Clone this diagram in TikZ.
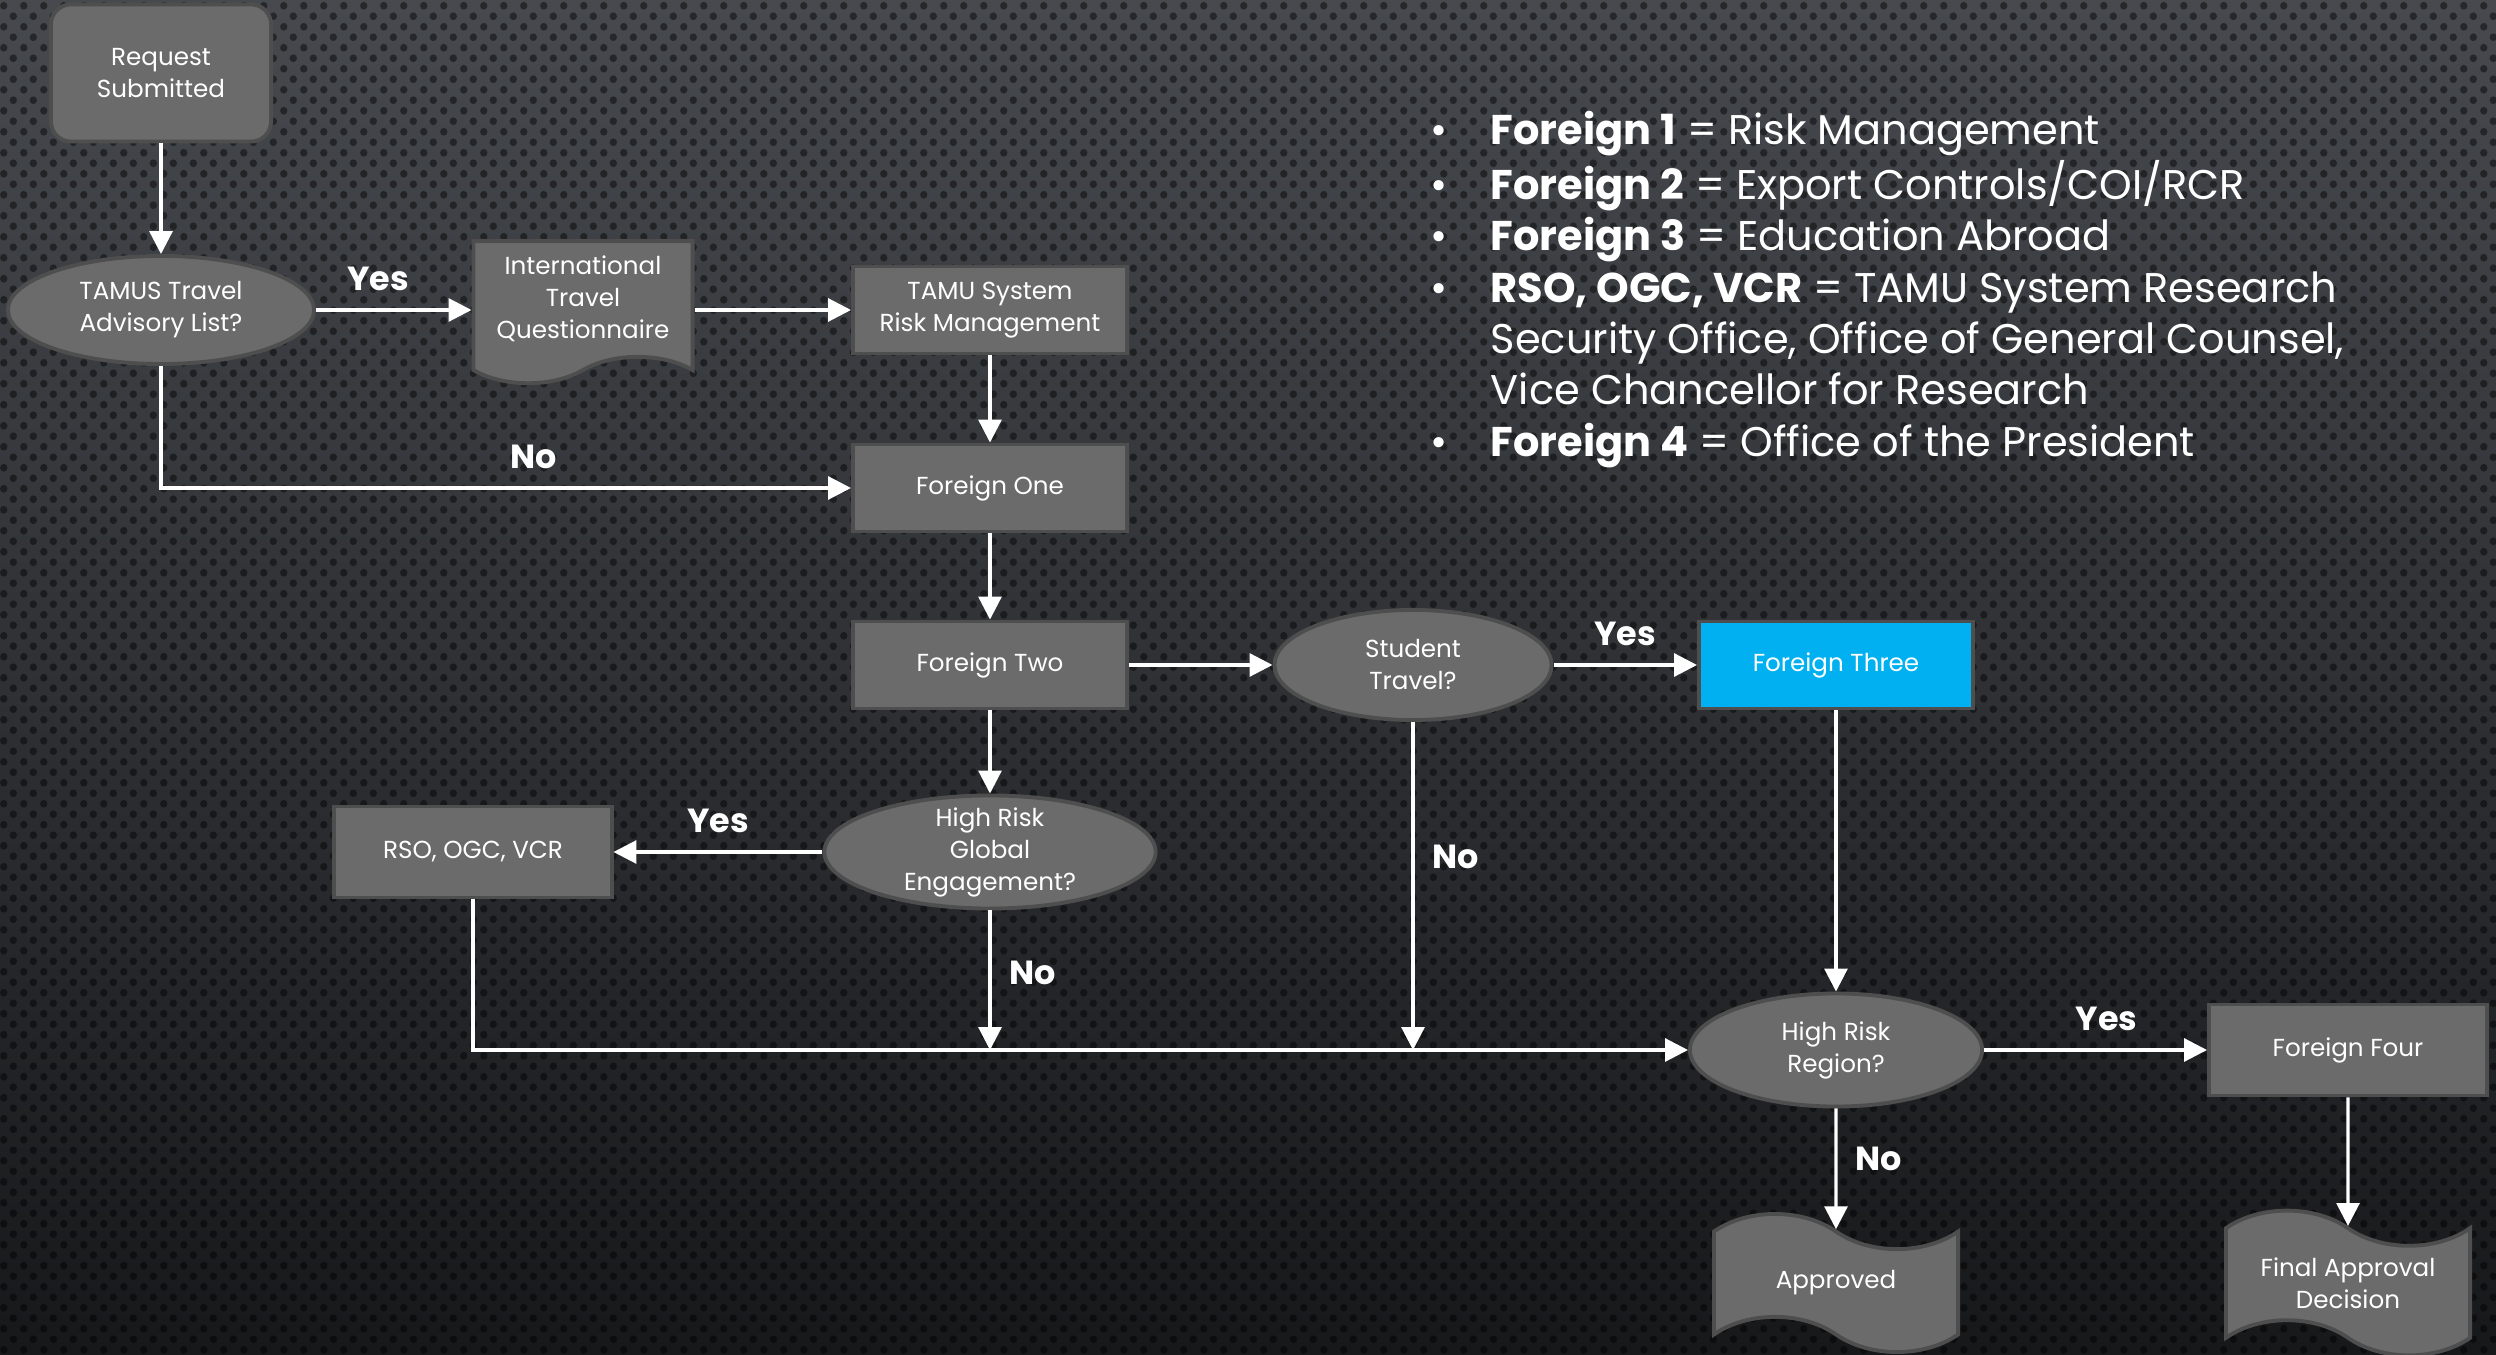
\documentclass[tikz,border=0pt]{standalone}
\usepackage{fontspec}
\setmainfont{Poppins}
\usetikzlibrary{shapes.geometric,shapes.symbols,arrows.meta,patterns}
\definecolor{boxgray}{HTML}{6B6B6B}
\definecolor{edgegray}{HTML}{4E4E4E}
\definecolor{skyblue}{HTML}{00B0F0}
\definecolor{bgtop}{HTML}{46494E}
\definecolor{bgbottom}{HTML}{17181A}
\newcommand{\boxfont}{\fontsize{7}{9.1}\selectfont}
\newcommand{\answerfont}{\fontsize{9.5}{11}\selectfont\bfseries}
\newcommand{\keyfont}{\fontsize{11.8}{14.6}\selectfont}
% perforated background
\pgfdeclarepatternformonly{perfdots}{\pgfqpoint{0pt}{0pt}}{\pgfqpoint{5.69pt}{5.97pt}}{\pgfqpoint{5.69pt}{5.97pt}}{%
	\pgfpathcircle{\pgfqpoint{1.42pt}{1.49pt}}{1.1pt}%
	\pgfpathcircle{\pgfqpoint{4.27pt}{4.48pt}}{1.1pt}%
	\pgfusepath{fill}}
\tikzset{
	process/.style  = {draw=edgegray, fill=boxgray, line width=1.1pt, rectangle,
		minimum width=2.74cm, minimum height=0.87cm, text=white, align=center, font=\boxfont},
	start/.style    = {process, rounded corners=0.2cm, minimum width=2.2cm, minimum height=1.37cm},
	decision/.style = {draw=edgegray, fill=boxgray, line width=1.1pt, ellipse, inner sep=0pt,
		text=white, align=center, font=\boxfont},
	paper/.style    = {process, tape, tape bend top=none, tape bend bottom=in and out,
		tape bend height=7.5pt, minimum width=2.19cm, minimum height=1.42cm},
	punched/.style  = {process, tape, tape bend top=out and in, tape bend bottom=out and in,
		tape bend height=10pt, minimum width=2.44cm, minimum height=1.38cm},
	answer/.style   = {text=white, font=\answerfont, inner sep=5pt},
	flow/.style     = {draw=white, line width=0.9pt, ->}
}

\begin{document}
\begin{tikzpicture}[x=0.01cm, y=-0.01cm, >={Triangle[length=6.5pt,width=6.5pt]}]
	\useasboundingbox (0,0) rectangle (2496,1355);
	\shade[top color=bgtop, bottom color=bgbottom] (0,0) rectangle (2496,1355);
	\fill[pattern=perfdots, pattern color=black, opacity=0.45] (0,0) rectangle (2496,1355);

	\draw
	node at (161,73) [start] (request) {Request\\Submitted}
	node at (161,310) [decision, minimum width=3.06cm, minimum height=1.08cm] (tamus) {TAMUS Travel\\Advisory List?}
	node at (583,299) [paper] (itq) {International\\Travel\\Questionnaire}
	node at (990,310) [process] (rm) {TAMU System\\Risk Management}
	node at (990,488) [process] (f1) {Foreign One}
	node at (990,665) [process] (f2) {Foreign Two}
	node at (1413,665) [decision, minimum width=2.77cm, minimum height=1.1cm] (student) {Student\\Travel?}
	node at (1836,665) [process, fill=skyblue] (f3) {Foreign Three}
	node at (990,852) [decision, inner ysep=-1.5pt, minimum width=3.31cm, minimum height=1.13cm] (hrge) {High Risk\\Global\\Engagement?}
	node at (473,852) [process, minimum width=2.77cm, minimum height=0.91cm] (rso) {RSO, OGC, VCR}
	node at (1836,1050) [decision, minimum width=2.92cm, minimum height=1.13cm] (hrr) {High Risk\\Region?}
	node at (2348,1050) [process, minimum width=2.78cm, minimum height=0.91cm] (f4) {Foreign Four}
	node at (1836,1283) [punched] (approved) {Approved}
	node at (2348,1283) [punched] (final) {Final Approval\\Decision};

	% key
	\node at (1430,145) [anchor=base west, text=white, font=\keyfont, inner sep=0pt] (key) {%
		\begin{tabular}[t]{@{}p{0.6cm}@{}l@{}}
			\textbullet & \textbf{Foreign 1} = Risk Management\\
			\textbullet & \textbf{Foreign 2} = Export Controls/COI/RCR\\
			\textbullet & \textbf{Foreign 3} = Education Abroad\\
			\textbullet & \textbf{RSO, OGC, VCR} = TAMU System Research\\
			& Security Office, Office of General Counsel,\\
			& Vice Chancellor for Research\\
			\textbullet & \textbf{Foreign 4} = Office of the President
		\end{tabular}};

	\coordinate (joinA) at (hrge.south |- hrr.west);
	\coordinate (joinB) at (student.south |- hrr.west);

	\draw[flow] (request) -- (tamus);
	\draw[flow] (tamus.east) -- node[answer, above, pos=0.4]{Yes} (tamus.east -| itq.west);
	\draw[flow] (rm.west -| itq.east) -- (rm.west);
	\draw[flow] (rm) -- (f1);
	\draw[flow] (tamus) |- node[answer, above, pos=0.77]{No} (f1);
	\draw[flow] (f1) -- (f2);
	\draw[flow] (f2) -- (student);
	\draw[flow] (student) -- node[answer, above]{Yes} (f3);
	\draw[flow] (f2) -- (hrge);
	\draw[flow] (hrge) -- node[answer, above]{Yes} (rso);
	\draw[flow] (rso) |- (hrr);
	\draw[flow] (hrge) -- node[answer, right, pos=0.45]{No} (joinA);
	\draw[flow] (student) -- node[answer, right, pos=0.41]{No} (joinB);
	\draw[flow] (f3) -- (hrr);
	\draw[flow] (hrr) -- node[answer, above, pos=0.55]{Yes} (f4);
	\draw[flow] (hrr) -- node[answer, right, pos=0.42]{No} (approved);
	\draw[flow] (f4) -- (final);
\end{tikzpicture}
\end{document}
